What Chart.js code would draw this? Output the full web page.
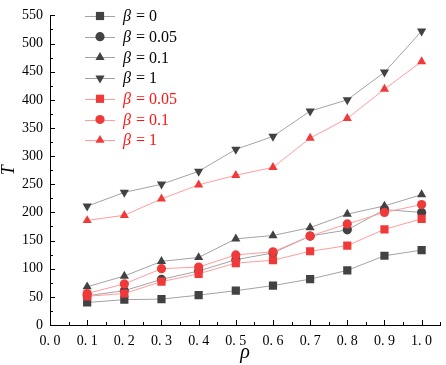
<!DOCTYPE html>
<html>
<head>
<meta charset="utf-8">
<script src="https://cdn.jsdelivr.net/npm/chart.js@4.4.1/dist/chart.umd.min.js"></script>
<style>
  html, body { margin: 0; padding: 0; background: #fff; }
</style>
</head>
<body>
<canvas id="t-chart" width="446" height="365"></canvas>
<script>
// values
const rho = [0.1, 0.2, 0.3, 0.4, 0.5, 0.6, 0.7, 0.8, 0.9, 1.0]
const betaNames = ['0', '0.05', '0.1', '1', '0.05', '0.1', '1']
const grayBeta0 = [40, 45, 46, 53, 61, 70, 81.5, 97, 123, 133]
const grayBeta005 = [52, 61, 81, 96, 116, 128, 158, 169, 205, 200]
const grayBeta01 = [68, 87, 113, 120, 153, 159, 173, 197, 211.5, 231.6]
const grayBeta1 = [211, 235.6, 250, 273, 312, 335, 380, 400, 449, 522]
const redBeta005 = [51, 56, 77, 91, 110, 115, 131, 141, 170, 188.6]
const redBeta01 = [56, 73, 100, 103, 124.5, 130, 158, 179.5, 200, 214]
const redBeta1 = [185.7, 195, 224, 249, 266, 280, 332, 367, 419, 468]
const yTicks = { min: 0, max: 550, step: 50 }

const FONT = "'Liberation Serif', 'Times New Roman', serif"
const GRAY_LINE = '#a3a3a3'
const GRAY_MARK = '#424242'
const RED_LINE = '#ff9c9c'
const RED_MARK = '#f03a3a'

const toPoints = vals => vals.map((v, i) => ({ x: rho[i], y: v }))

function series(label, vals, red, style, rotation, radius) {
  return {
    label,
    data: toPoints(vals),
    borderColor: red ? RED_LINE : GRAY_LINE,
    borderWidth: 1,
    backgroundColor: red ? RED_MARK : GRAY_MARK,
    pointBackgroundColor: red ? RED_MARK : GRAY_MARK,
    pointBorderColor: red ? RED_MARK : GRAY_MARK,
    pointBorderWidth: 0,
    pointStyle: style,
    rotation: rotation,
    pointRadius: radius,
    tension: 0,
    order: red ? 0 : 1,
    isRed: red,
  }
}

const datasets = [
  series(betaNames[0], grayBeta0, false, 'rect', 0, 5.8),
  series(betaNames[1], grayBeta005, false, 'circle', 0, 4.6),
  series(betaNames[2], grayBeta01, false, 'triangle', 0, 5.3),
  series(betaNames[3], grayBeta1, false, 'triangle', 180, 5.3),
  series(betaNames[4], redBeta005, true, 'rect', 0, 5.8),
  series(betaNames[5], redBeta01, true, 'circle', 0, 4.6),
  series(betaNames[6], redBeta1, true, 'triangle', 0, 5.3),
]

function drawMarker(ctx, style, rotation, r, x, y) {
  ctx.beginPath()
  if (style === 'circle') {
    ctx.arc(x, y, r, 0, Math.PI * 2)
  } else if (style === 'rect') {
    const s = r * Math.SQRT1_2
    ctx.rect(x - s, y - s, 2 * s, 2 * s)
  } else {
    const rot = (rotation || 0) * Math.PI / 180
    for (let k = 0; k < 3; k++) {
      const a = rot - Math.PI / 2 + k * 2 * Math.PI / 3
      const px = x + Math.cos(a) * r
      const py = y + Math.sin(a) * r * 1
      k === 0 ? ctx.moveTo(px, py) : ctx.lineTo(px, py)
    }
    ctx.closePath()
  }
  ctx.fill()
}

// inward major + minor ticks, placed through the scales
const innerTicks = {
  id: 'innerTicks',
  afterDraw(chart) {
    const { ctx, chartArea, scales: { x, y } } = chart
    ctx.save()
    ctx.strokeStyle = '#000'
    ctx.lineWidth = 1
    ctx.beginPath()
    const xt = x.ticks.map(t => t.value)
    xt.forEach((v, i) => {
      const px = Math.round(x.getPixelForValue(v)) + 0.5
      ctx.moveTo(px, chartArea.bottom)
      ctx.lineTo(px, chartArea.bottom - 5)
      const mid = i < xt.length - 1 ? (v + xt[i + 1]) / 2 : v + 0.05
      if (mid <= x.max + 1e-9) {
        const pm = Math.round(x.getPixelForValue(mid)) + 0.5
        ctx.moveTo(pm, chartArea.bottom)
        ctx.lineTo(pm, chartArea.bottom - 3)
      }
    })
    const yt = y.ticks.map(t => t.value)
    yt.forEach((v, i) => {
      const py = Math.round(y.getPixelForValue(v)) + 0.5
      ctx.moveTo(chartArea.left, py)
      ctx.lineTo(chartArea.left + 5, py)
      if (i < yt.length - 1) {
        const pm = Math.round(y.getPixelForValue((v + yt[i + 1]) / 2)) + 0.5
        ctx.moveTo(chartArea.left, pm)
        ctx.lineTo(chartArea.left + 3, pm)
      }
    })
    ctx.stroke()
    ctx.restore()
  },
}

// legend inside the plot, with italic beta
const betaLegend = {
  id: 'betaLegend',
  afterDraw(chart) {
    const ctx = chart.ctx
    const left = 85, top = 16, rowH = 20.7
    ctx.save()
    chart.data.datasets.forEach((ds, i) => {
      const cy = top + i * rowH
      ctx.strokeStyle = ds.borderColor
      ctx.lineWidth = 1
      ctx.beginPath()
      ctx.moveTo(left, Math.round(cy) + 0.5)
      ctx.lineTo(left + 30, Math.round(cy) + 0.5)
      ctx.stroke()
      ctx.fillStyle = ds.pointBackgroundColor
      drawMarker(ctx, ds.pointStyle, ds.rotation, ds.pointRadius, left + 15, cy)
      ctx.fillStyle = ds.isRed ? '#ff1414' : '#000'
      ctx.textBaseline = 'middle'
      ctx.font = 'italic 16px ' + FONT
      ctx.fillText('β', left + 38, cy + 1)
      const w = ctx.measureText('β').width
      ctx.font = '16px ' + FONT
      ctx.fillText(' = ' + ds.label, left + 38 + w + 1, cy + 1)
    })
    ctx.restore()
  },
}

const tickFont = { family: FONT, size: 14 }

const config = {
  type: 'line',
  data: { datasets },
  options: {
    responsive: false,
    animation: false,
    devicePixelRatio: 1,
    layout: { padding: { top: 5, right: 1, left: 0, bottom: 0 } },
    plugins: {
      legend: { display: false },
      tooltip: { enabled: false },
    },
    elements: { line: { borderWidth: 1 } },
    scales: {
      x: {
        type: 'linear',
        min: 0,
        max: 1.05,
        afterFit: s => { s.height = 40 },
        border: { color: '#000', width: 1 },
        grid: { drawOnChartArea: false, drawTicks: false },
        ticks: {
          stepSize: 0.1,
          includeBounds: false,
          autoSkip: false,
          maxRotation: 0,
          padding: 8,
          color: '#000',
          font: tickFont,
          callback: v => (v > 1.01 ? '' : v.toFixed(1).replace('.', '. ')),
        },
        title: {
          display: true,
          text: 'ρ',
          color: '#000',
          font: { family: FONT, size: 20, style: 'italic', lineHeight: 1 },
          padding: { top: 0, bottom: 2 },
        },
      },
      y: {
        min: yTicks.min,
        max: yTicks.max,
        afterFit: s => { s.width = 50 },
        border: { color: '#000', width: 1 },
        grid: { drawOnChartArea: false, drawTicks: false },
        ticks: {
          stepSize: yTicks.step,
          padding: 7,
          color: '#000',
          font: tickFont,
        },
        title: {
          display: true,
          text: 'T',
          color: '#000',
          font: { family: FONT, size: 18, style: 'italic', lineHeight: 1 },
          padding: { top: 0, bottom: 0 },
        },
      },
    },
  },
  plugins: [innerTicks, betaLegend],
}

const tChart = new Chart(document.getElementById('t-chart'), config)
</script>
</body>
</html>
